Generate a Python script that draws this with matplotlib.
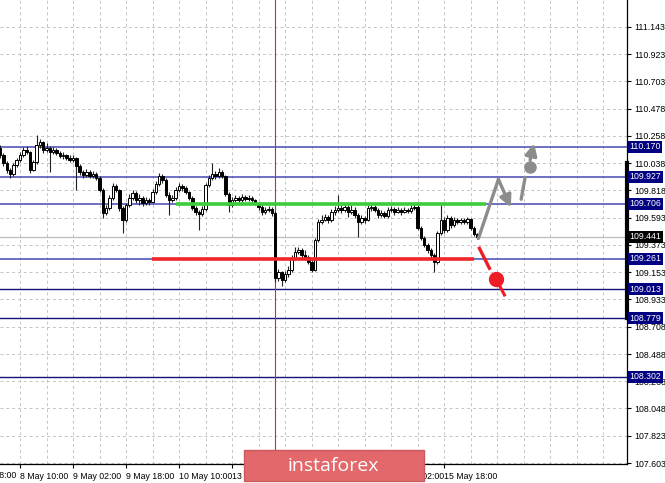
import matplotlib
matplotlib.use('Agg')
import matplotlib.pyplot as plt
from matplotlib.patches import Rectangle
import numpy as np

plt.rcParams['font.family'] = ['Liberation Sans', 'DejaVu Sans']

# USD/JPY H1 candles, bar index -6 .. 138 (0 = 8 May 10:00)
first_open = 110.161
closes = [110.104, 110.039, 109.982, 109.950, 110.023, 110.063,
          110.104, 110.144, 110.128, 109.982, 110.047, 110.185, 110.209, 110.144,
          110.161, 110.128, 110.144, 110.120, 110.096, 110.104, 110.079, 110.063,
          110.079, 110.015, 109.966, 109.942, 109.966, 109.933, 109.950, 109.917,
          109.820, 109.633, 109.674, 109.755, 109.852, 109.820, 109.674, 109.576,
          109.698, 109.755, 109.796, 109.739, 109.755, 109.714, 109.739, 109.722,
          109.804, 109.869, 109.933, 109.901, 109.779, 109.739, 109.755, 109.820,
          109.852, 109.836, 109.804, 109.755, 109.674, 109.641, 109.625, 109.666,
          109.860, 109.917, 109.950, 109.933, 109.966, 109.933, 109.787, 109.698,
          109.739, 109.755, 109.739, 109.763, 109.747, 109.755, 109.739, 109.714,
          109.682, 109.641, 109.657, 109.666, 109.633, 109.105, 109.154, 109.089,
          109.138, 109.170, 109.268, 109.316, 109.333, 109.292, 109.276, 109.235,
          109.170, 109.414, 109.560, 109.576, 109.601, 109.576, 109.641, 109.657,
          109.674, 109.657, 109.682, 109.641, 109.657, 109.617, 109.560, 109.593,
          109.576, 109.674, 109.682, 109.657, 109.617, 109.633, 109.609, 109.657,
          109.666, 109.641, 109.657, 109.641, 109.657, 109.649, 109.674, 109.682,
          109.511, 109.430, 109.373, 109.333, 109.292, 109.235, 109.471, 109.576,
          109.495, 109.593, 109.536, 109.576, 109.560, 109.576, 109.560, 109.584,
          109.511, 109.463, 109.441]
highs = [110.185, 110.120, 110.055, 110.000, 110.040, 110.080,
         110.130, 110.170, 110.180, 110.140, 110.065, 110.266, 110.235, 110.220,
         110.200, 110.175, 110.170, 110.160, 110.140, 110.125, 110.115, 110.100,
         110.100, 110.090, 110.030, 109.985, 109.990, 109.980, 109.975, 109.965,
         109.930, 109.835, 109.700, 109.780, 109.880, 109.870, 109.830, 109.690,
         109.715, 109.790, 109.820, 109.810, 109.785, 109.770, 109.760, 109.755,
         109.830, 109.890, 109.960, 109.950, 109.915, 109.800, 109.780, 109.840,
         109.880, 109.870, 109.850, 109.815, 109.770, 109.690, 109.660, 109.690,
         109.880, 109.940, 110.039, 109.975, 110.000, 109.985, 109.945, 109.800,
         109.760, 109.775, 109.770, 109.785, 109.780, 109.775, 109.770, 109.750,
         109.725, 109.695, 109.680, 109.690, 109.680, 109.650, 109.175, 109.165,
         109.160, 109.200, 109.290, 109.360, 109.355, 109.345, 109.330, 109.290,
         109.250, 109.430, 109.580, 109.620, 109.625, 109.620, 109.665, 109.690,
         109.779, 109.700, 109.710, 109.700, 109.700, 109.680, 109.630, 109.615,
         109.610, 109.700, 109.705, 109.700, 109.670, 109.660, 109.650, 109.680,
         109.690, 109.685, 109.680, 109.675, 109.680, 109.675, 109.695, 109.705,
         109.700, 109.530, 109.450, 109.390, 109.345, 109.310, 109.490, 109.698,
         109.600, 109.615, 109.610, 109.600, 109.590, 109.595, 109.590, 109.600,
         109.595, 109.525, 109.470]
lows = [110.080, 110.015, 109.960, 109.917, 109.935, 110.005,
        110.050, 110.090, 110.110, 109.960, 109.970, 110.030, 110.160, 110.120,
        110.130, 109.966, 110.110, 110.100, 110.080, 110.075, 110.060, 110.045,
        110.050, 109.820, 109.945, 109.920, 109.925, 109.915, 109.915, 109.900,
        109.800, 109.593, 109.615, 109.660, 109.740, 109.800, 109.650, 109.471,
        109.560, 109.680, 109.740, 109.715, 109.700, 109.690, 109.700, 109.700,
        109.710, 109.790, 109.850, 109.880, 109.760, 109.617, 109.720, 109.740,
        109.800, 109.815, 109.785, 109.735, 109.655, 109.620, 109.495, 109.610,
        109.650, 109.845, 109.900, 109.910, 109.915, 109.915, 109.770, 109.640,
        109.680, 109.720, 109.720, 109.725, 109.730, 109.730, 109.720, 109.695,
        109.660, 109.620, 109.625, 109.640, 109.610, 109.073, 109.080, 109.040,
        109.070, 109.110, 109.150, 109.250, 109.300, 109.270, 109.250, 109.215,
        109.150, 109.160, 109.400, 109.540, 109.570, 109.555, 109.560, 109.620,
        109.640, 109.630, 109.640, 109.600, 109.625, 109.595, 109.440, 109.545,
        109.555, 109.565, 109.650, 109.640, 109.595, 109.600, 109.590, 109.595,
        109.640, 109.620, 109.630, 109.620, 109.630, 109.630, 109.635, 109.660,
        109.495, 109.410, 109.355, 109.310, 109.270, 109.154, 109.220, 109.455,
        109.470, 109.480, 109.515, 109.520, 109.540, 109.545, 109.540, 109.545,
        109.495, 109.445, 109.420]
opens = [first_open] + closes[:-1]

y_ticks = [111.143, 110.923, 110.703, 110.478, 110.258, 110.038, 109.818, 109.593,
           109.373, 109.153, 108.933, 108.708, 108.488, 108.268, 108.048, 107.823, 107.603]
x_tick_bars = [-16, 0, 16, 32, 48, 64, 80, 96, 112, 128]
x_tick_labels = ['7 May 18:00', '8 May 10:00', '9 May 02:00', '9 May 18:00', '10 May 10:00',
                 '13 May 02:00', '13 May 18:00', '14 May 10:00', '15 May 02:00', '15 May 18:00']

blue_levels = [110.170, 109.927, 109.706, 109.261]
navy_levels = [109.013, 108.779, 108.302]
last_price = 109.441
resistance = 109.706
support = 109.261

# forecast sketch points (bar index, price)
up_path = [(138.36, 109.427), (144.39, 109.906), (148.13, 109.679)]
up_second = [(151.25, 109.744), (152.45, 109.922)]
up_ball = (153.96, 110.008)
up_arrow = [(153.96, 110.063), (155.17, 110.198)]
down_path = [(138.66, 109.346), (141.68, 109.184)]
down_drop = [(143.70, 109.097), (146.21, 108.967)]

bars = np.arange(len(closes)) - 6
o = np.array(opens)
c = np.array(closes)
h = np.array(highs)
l = np.array(lows)

fig = plt.figure(figsize=(6.65, 4.83), dpi=100)
ax = fig.add_axes([0, 19 / 483, 627 / 665, 464 / 483])

# grid / ticks
ax.set_xticks(x_tick_bars)
ax.set_xticklabels(x_tick_labels, ha='left')
ax.set_xticks(np.arange(-8, 184, 8), minor=True)
ax.set_yticks(y_ticks)
ax.set_yticklabels([f'{v:.3f}' for v in y_ticks])
ax.yaxis.tick_right()
ax.grid(which='both', color='#c4c4c4', linestyle=(0, (3, 3)), lw=0.7, zorder=0)
ax.tick_params(axis='y', direction='out', length=3, labelsize=6.3, pad=2, width=0.8)
ax.tick_params(axis='x', which='major', direction='out', length=3, labelsize=6.3, pad=3, width=0.8)
ax.tick_params(axis='x', which='minor', length=0)
ax.spines['left'].set_visible(False)
ax.spines['top'].set_visible(False)
ax.spines['right'].set_linewidth(0.9)
ax.spines['bottom'].set_linewidth(0.9)

# level lines
for lv in blue_levels:
    ax.axhline(lv, color='#4848b4', lw=1.1, zorder=2)
for lv in navy_levels:
    ax.axhline(lv, color='#13137a', lw=1.0, zorder=2)
ax.axhline(last_price, color='#bdbdbd', lw=0.9, zorder=1)
ax.axvline(77, color='#d02a3a', lw=0.8, zorder=2)

# candles
ax.vlines(bars, l, h, color='#222222', lw=0.8, zorder=3)
up = c >= o
body = np.maximum(np.abs(c - o), 0.006)
ax.bar(bars[up], body[up], bottom=o[up], width=0.75, facecolor='white',
       edgecolor='black', lw=0.7, zorder=4)
ax.bar(bars[~up], body[~up], bottom=c[~up], width=0.75, facecolor='black',
       edgecolor='black', lw=0.7, zorder=4)

# support / resistance
ax.hlines(resistance, 47, 140.7, color='#3ccc3c', lw=2.6, zorder=5)
ax.hlines(support, 39.8, 137, color='#f0252a', lw=2.6, zorder=5)

# forecast arrows
gray = '#8c8c8c'
ax.plot([p[0] for p in up_path[:2]], [p[1] for p in up_path[:2]], color=gray, lw=2.4,
        solid_capstyle='round', zorder=6)
ax.annotate('', xy=up_path[2], xytext=up_path[1],
            arrowprops=dict(arrowstyle='-|>,head_length=0.7,head_width=0.35', color=gray, lw=2.4,
                            shrinkA=0, shrinkB=0), zorder=6)
ax.plot([p[0] for p in up_second], [p[1] for p in up_second], color=gray, lw=2.4,
        solid_capstyle='round', zorder=6)
ax.plot(*up_ball, 'o', color=gray, ms=8, zorder=6)
ax.annotate('', xy=up_arrow[1], xytext=up_arrow[0],
            arrowprops=dict(arrowstyle='-|>,head_length=0.7,head_width=0.35', color=gray, lw=2.4,
                            shrinkA=0, shrinkB=0), zorder=6)
red = '#ee1c25'
ax.plot([p[0] for p in down_path], [p[1] for p in down_path], color=red, lw=2.4, zorder=6)
ax.plot([p[0] for p in down_drop], [p[1] for p in down_drop], color=red, lw=2.2, zorder=6)
ax.plot(*down_drop[0], 'o', color=red, ms=10, zorder=6)

# axis limits last, so the tick setters cannot widen them
ax.set_xlim(-6.04, 183.2)
ax.set_ylim(107.595, 111.362)

# first time label sits left of the view and is cut by the image edge
ax.annotate(x_tick_labels[0], xy=(x_tick_bars[0], 0), xycoords=ax.get_xaxis_transform(),
            xytext=(1, -5.2), textcoords='offset points', ha='left', va='top',
            fontsize=6.3, annotation_clip=False)

# price range bar on the scale
ax.plot([1.0, 1.0], [110.038, 108.779], transform=ax.get_yaxis_transform(),
        color='black', lw=3, clip_on=False, zorder=7)

# level price boxes
ytr = ax.get_yaxis_transform()
for lv in blue_levels + navy_levels:
    ax.text(1.004, lv, f'{lv:.3f}', transform=ytr, ha='left', va='center', fontsize=6.3,
            color='white', clip_on=False, zorder=8,
            bbox=dict(boxstyle='square,pad=0.18', facecolor='#000080', edgecolor='none'))
ax.text(1.004, last_price, f'{last_price:.3f}', transform=ytr, ha='left', va='center',
        fontsize=6.3, color='white', clip_on=False, zorder=8,
        bbox=dict(boxstyle='square,pad=0.18', facecolor='black', edgecolor='none'))

# watermark banner
fig.add_artist(Rectangle((244 / 665, 2 / 483), 180 / 665, 31 / 483, transform=fig.transFigure,
                         facecolor='#e2686b', edgecolor='#c85a5e', lw=1, zorder=10))
fig.text(333 / 665, 17 / 483, 'instaforex', ha='center', va='center', color='white',
         fontsize=14, family=['Open Sans', 'DejaVu Sans'], zorder=11)

fig.savefig('out.png', dpi=100)
